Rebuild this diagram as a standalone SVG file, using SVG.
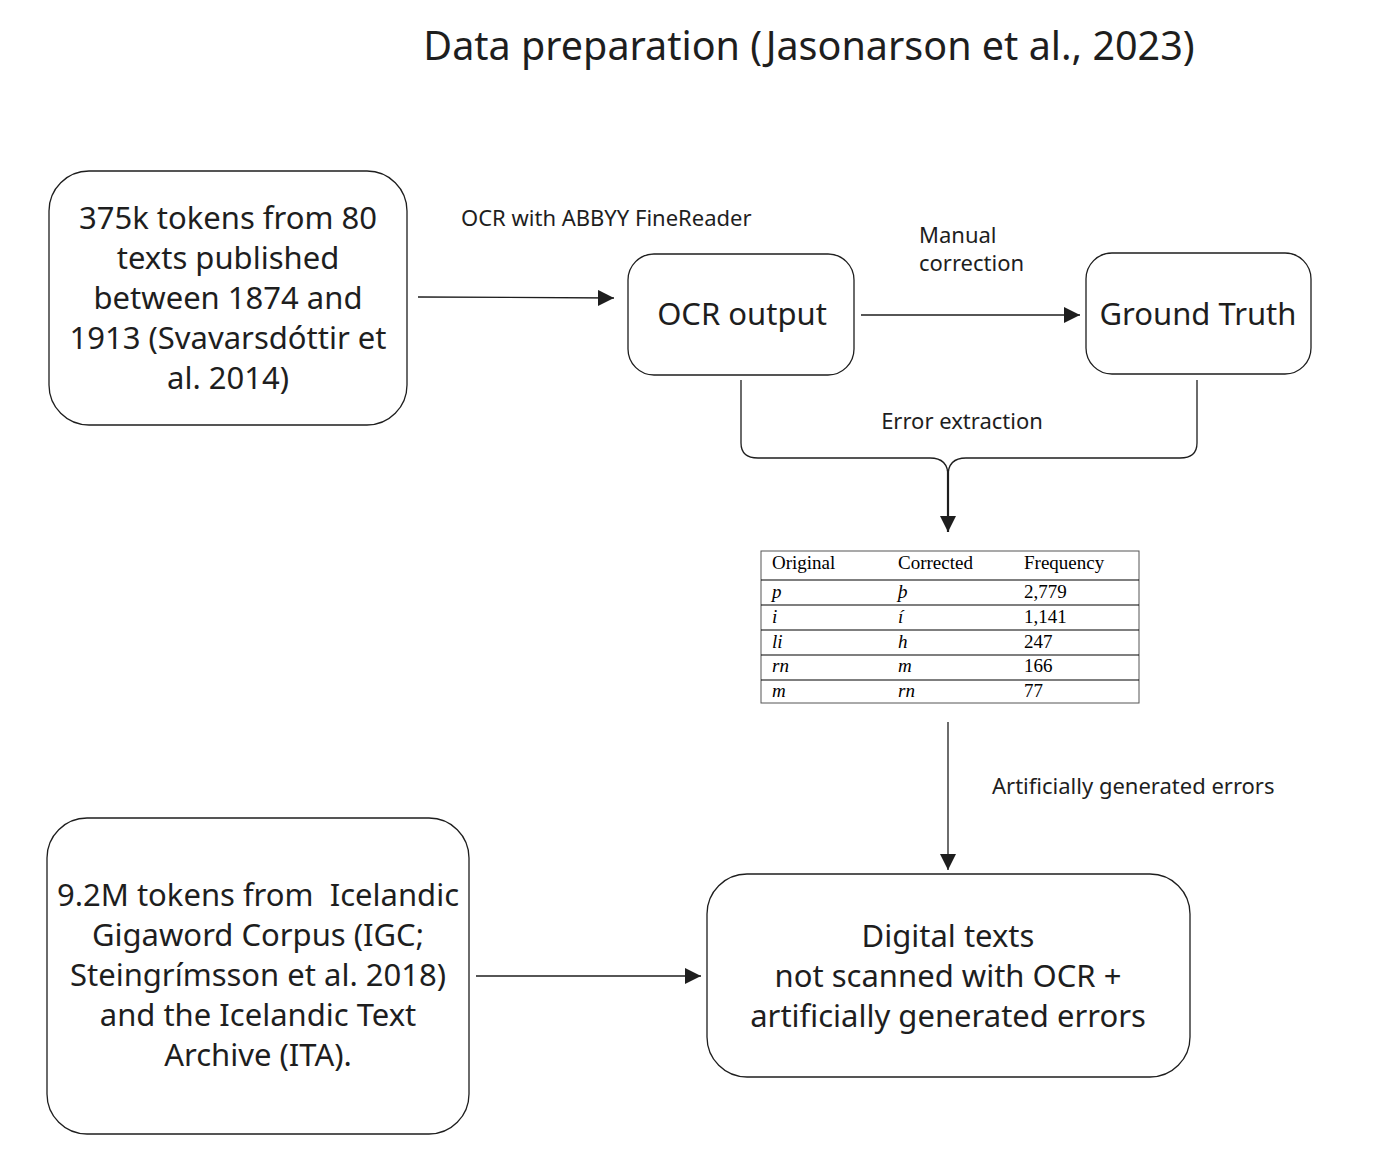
<svg xmlns="http://www.w3.org/2000/svg" width="1376" height="1162" viewBox="0 0 1376 1162">
<defs>
<style>
.box{fill:#fff;stroke:#1e1e1e;stroke-width:1.3}
.t{font-family:"Noto Sans","Open Sans",sans-serif;fill:#1e1e1e;text-anchor:middle}
.big{font-size:31px}
.lbl{font-family:"Noto Sans","Open Sans",sans-serif;fill:#1e1e1e;font-size:22px}
.ln{fill:none;stroke:#1e1e1e;stroke-width:1.3}
.tb{font-family:"Liberation Serif",serif;font-size:19px;fill:#000}
.it{font-style:italic}
.tl{stroke:#000;stroke-width:1.2}
</style>
<marker id="ah2" viewBox="0 0 10 10" refX="10" refY="5" markerWidth="16" markerHeight="16" markerUnits="userSpaceOnUse" orient="auto">
<path d="M0,0 L10,5 L0,10 Z" fill="#1e1e1e"/>
</marker>
</defs>
<rect width="1376" height="1162" fill="#fff"/>
<text x="809" y="60" class="t" font-size="39.5">Data preparation (Jasonarson et al., 2023)</text>

<g id="connectors">
<path class="ln" d="M418,297 L614,298" marker-end="url(#ah2)"/>
<path class="ln" d="M861,315 L1080,315" marker-end="url(#ah2)"/>
<path class="ln" d="M741,380 L741,443 Q741,458 758,458 L930,458 Q948,458 948,476"/>
<path class="ln" d="M1197,380 L1197,443 Q1197,458 1180,458 L966,458 Q948,458 948,476"/>
<path fill="none" stroke="#1e1e1e" stroke-width="2.2" d="M948,470 L948,532" marker-end="url(#ah2)"/>
<path class="ln" d="M948,722 L948,870" marker-end="url(#ah2)"/>
<path class="ln" d="M476,976 L701,976" marker-end="url(#ah2)"/>
<text x="461" y="226" class="lbl">OCR with ABBYY FineReader</text>
<text x="919" y="243" class="lbl">Manual</text>
<text x="919" y="271" class="lbl">correction</text>
<text x="962" y="429" class="lbl" text-anchor="middle">Error extraction</text>
<text x="992" y="794" class="lbl">Artificially generated errors</text>
</g>

<g id="source-375k">
<rect class="box" x="49" y="171" width="358" height="254" rx="40"/>
<text class="t big" x="228"><tspan x="228" y="229">375k tokens from 80</tspan><tspan x="228" y="269">texts published</tspan><tspan x="228" y="309">between 1874 and</tspan><tspan x="228" y="349">1913 (Svavarsdóttir et</tspan><tspan x="228" y="389">al. 2014)</tspan></text>
</g>

<g id="ocr-output">
<rect class="box" x="628" y="254" width="226" height="121" rx="26"/>
<text class="t big" x="742" y="325">OCR output</text>
</g>

<g id="ground-truth">
<rect class="box" x="1086" y="253" width="225" height="121" rx="26"/>
<text class="t big" x="1198" y="325">Ground Truth</text>
</g>

<g id="error-table">
<rect x="761" y="551" width="378" height="152" fill="#fff" stroke="#555" stroke-width="1"/>
<line class="tl" x1="761" y1="580" x2="1139" y2="580"/>
<line class="tl" x1="761" y1="605" x2="1139" y2="605"/>
<line class="tl" x1="761" y1="630" x2="1139" y2="630"/>
<line class="tl" x1="761" y1="655" x2="1139" y2="655"/>
<line class="tl" x1="761" y1="680" x2="1139" y2="680"/>
<text class="tb" x="772" y="569">Original</text>
<text class="tb" x="898" y="569">Corrected</text>
<text class="tb" x="1024" y="569">Frequency</text>
<text class="tb it" x="772" y="598">p</text><text class="tb it" x="898" y="598">þ</text><text class="tb" x="1024" y="598">2,779</text>
<text class="tb it" x="772" y="623">i</text><text class="tb it" x="898" y="623">í</text><text class="tb" x="1024" y="623">1,141</text>
<text class="tb it" x="772" y="648">li</text><text class="tb it" x="898" y="648">h</text><text class="tb" x="1024" y="648">247</text>
<text class="tb it" x="772" y="672">rn</text><text class="tb it" x="898" y="672">m</text><text class="tb" x="1024" y="672">166</text>
<text class="tb it" x="772" y="697">m</text><text class="tb it" x="898" y="697">rn</text><text class="tb" x="1024" y="697">77</text>
</g>

<g id="source-igc">
<rect class="box" x="47" y="818" width="422" height="316" rx="40"/>
<text class="t big" x="258"><tspan x="258" y="906">9.2M tokens from &#160;Icelandic</tspan><tspan x="258" y="946">Gigaword Corpus (IGC;</tspan><tspan x="258" y="986">Steingrímsson et al. 2018)</tspan><tspan x="258" y="1026">and the Icelandic Text</tspan><tspan x="258" y="1066">Archive (ITA).</tspan></text>
</g>

<g id="digital-texts">
<rect class="box" x="707" y="874" width="483" height="203" rx="40"/>
<text class="t big" x="948"><tspan x="948" y="947">Digital texts</tspan><tspan x="948" y="987">not scanned with OCR +</tspan><tspan x="948" y="1027">artificially generated errors</tspan></text>
</g>
</svg>
